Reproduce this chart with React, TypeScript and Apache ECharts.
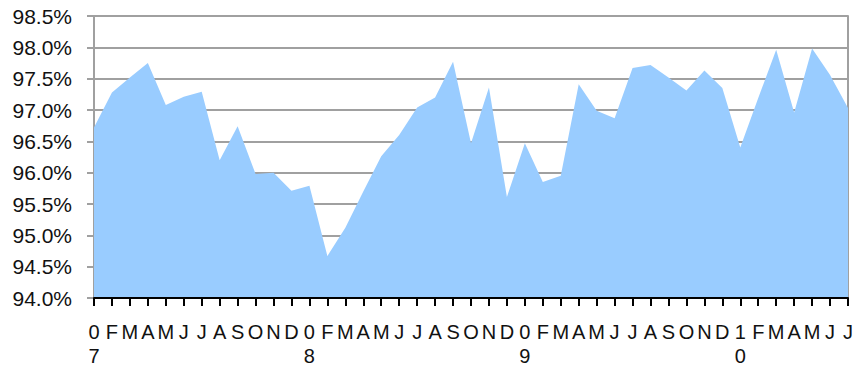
import React, { useEffect, useRef } from "react";
import * as echarts from "echarts";

const months = ["0\n7", "F", "M", "A", "M", "J", "J", "A", "S", "O", "N", "D",
  "0\n8", "F", "M", "A", "M", "J", "J", "A", "S", "O", "N", "D",
  "0\n9", "F", "M", "A", "M", "J", "J", "A", "S", "O", "N", "D",
  "1\n0", "F", "M", "A", "M", "J", "J"];

const values = [96.72, 97.28, 97.52, 97.75, 97.08, 97.21, 97.29, 96.2, 96.74, 95.98, 96.0, 95.71,
  95.79, 94.67, 95.12, 95.7, 96.26, 96.6, 97.04, 97.2, 97.77, 96.47, 97.36, 95.61,
  96.47, 95.85, 95.95, 97.41, 96.99, 96.87, 97.67, 97.72, 97.52, 97.31, 97.63, 97.35,
  96.4, 97.19, 97.96, 96.96, 97.98, 97.56, 97.03];

const yMin = 94.0;
const yMax = 98.5;
const yStep = 0.5;

export default function App() {
  const ref = useRef<HTMLDivElement>(null);
  useEffect(() => {
    if (!ref.current) return;
    const chart = echarts.init(ref.current, undefined, { renderer: "svg" });
    chart.setOption({
      animation: false,
      backgroundColor: "#ffffff",
      grid: {
        left: 94,
        right: 19,
        top: 16,
        bottom: 70,
        show: false,
        containLabel: false,
        outerBoundsMode: "none",
      },
      xAxis: {
        type: "category",
        data: months,
        boundaryGap: false,
        axisLine: { show: true, lineStyle: { color: "#000", width: 2 } },
        axisTick: { show: true, interval: 0, inside: false, length: 8, lineStyle: { color: "#000", width: 2 } },
        axisLabel: {
          interval: 0,
          margin: 22,
          color: "#111",
          fontFamily: "Liberation Sans, Arial, sans-serif",
          fontSize: 20,
          lineHeight: 24,
        },
        splitLine: { show: false },
        z: 3,
      },
      yAxis: [
        {
          type: "value",
          min: yMin,
          max: yMax,
          interval: yStep,
          axisLine: { show: true, lineStyle: { color: "#a0a0a0", width: 2 } },
          axisTick: { show: true, inside: false, length: 7, lineStyle: { color: "#a0a0a0", width: 2 } },
          axisLabel: {
            margin: 22,
            color: "#111",
            fontFamily: "Liberation Sans, Arial, sans-serif",
            fontSize: 21,
            formatter: (v: number) => v.toFixed(1) + "%",
          },
          splitLine: { show: true, lineStyle: { color: "#a0a0a0", width: 2 } },
        },
        {
          type: "value",
          position: "right",
          min: yMin,
          max: yMax,
          interval: yStep,
          axisLine: { show: true, lineStyle: { color: "#a0a0a0", width: 2 } },
          axisTick: { show: false },
          axisLabel: { show: false },
          splitLine: { show: false },
        },
      ],
      series: [
        {
          type: "line",
          data: values,
          symbol: "none",
          lineStyle: { width: 0 },
          areaStyle: { color: "#99ccff", opacity: 1, origin: "start" },
          z: 1,
        },
      ],
    });
    return () => chart.dispose();
  }, []);
  return (
    <div
      ref={ref}
      style={{ position: "absolute", left: 0, top: 0, width: 867, height: 368 }}
    />
  );
}
